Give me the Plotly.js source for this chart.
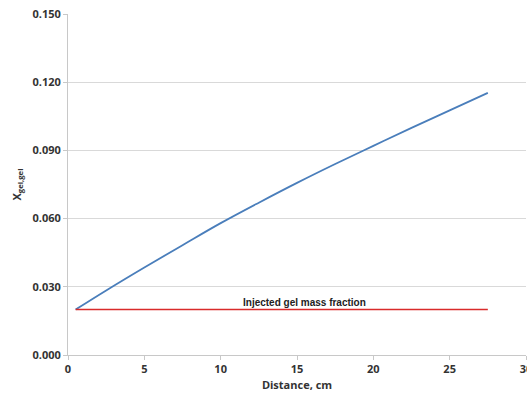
<!DOCTYPE html>
<html>
<head>
<meta charset="utf-8">
<script src="https://cdn.plot.ly/plotly-3.0.1.min.js"></script>
<style>html,body{margin:0;padding:0;background:#fff;}#chart{width:527px;height:396px;}</style>
</head>
<body>
<div id="chart"></div>
<script>
// Data
const distance = [0.5, 2.5, 5, 7.5, 10, 12.5, 15, 17.5, 20, 22.5, 25, 27.5];
const xgel = [0.0200, 0.0284, 0.0385, 0.0483, 0.0580, 0.0670, 0.0757, 0.0840, 0.0920, 0.0999, 0.1076, 0.1153];
const injectedX = [0.5, 27.5];
const injectedY = [0.02, 0.02];
const injectedLabel = "Injected gel mass fraction";
const yTicks = [0, 0.03, 0.06, 0.09, 0.12, 0.15];
const xTicks = [0, 5, 10, 15, 20, 25, 30];

const fam = "Open Sans, Noto Sans, sans-serif";

const traces = [
  {x: distance, y: xgel, mode: "lines", line: {color: "#4a7ebb", width: 1.8, shape: "spline", smoothing: 1}, hoverinfo: "skip", showlegend: false},
  {x: injectedX, y: injectedY, mode: "lines", line: {color: "#d92b2b", width: 1.5}, hoverinfo: "skip", showlegend: false}
];

const layout = {
  width: 527, height: 396,
  margin: {l: 68, r: 1, t: 14, b: 41},
  paper_bgcolor: "#fff", plot_bgcolor: "#fff",
  showlegend: false,
  xaxis: {
    range: [0, 30], tickvals: xTicks, ticktext: xTicks.map(String),
    showgrid: false, zeroline: false,
    showline: true, linecolor: "#c8c8c8", linewidth: 1,
    ticks: "outside", ticklen: 4, tickcolor: "#c8c8c8",
    ticklabeloverflow: "allow",
    tickfont: {family: fam, size: 11, color: "#333", weight: "bold"},
    title: {text: "<b>Distance, cm</b>", font: {family: fam, size: 11, color: "#333"}, standoff: 6}
  },
  yaxis: {
    range: [0, 0.15], tickvals: yTicks, ticktext: yTicks.map(v => v.toFixed(3)),
    showgrid: true, gridcolor: "#d9d9d9", gridwidth: 1, zeroline: false,
    showline: true, linecolor: "#c8c8c8", linewidth: 1,
    ticks: "outside", ticklen: 4, tickcolor: "#c8c8c8",
    tickfont: {family: fam, size: 11, color: "#333", weight: "bold"},
    title: {text: "<b>X<sub>gel,gel</sub></b>", font: {family: fam, size: 11, color: "#333"}, standoff: 8}
  },
  annotations: [{
    x: 15.5, y: 0.0229, xref: "x", yref: "y", text: "<b>" + injectedLabel + "</b>",
    showarrow: false, font: {family: "Liberation Sans, Arial, sans-serif", size: 10, color: "#222"}
  }]
};

Plotly.newPlot("chart", traces, layout, {staticPlot: true, displayModeBar: false});
</script>
</body>
</html>
